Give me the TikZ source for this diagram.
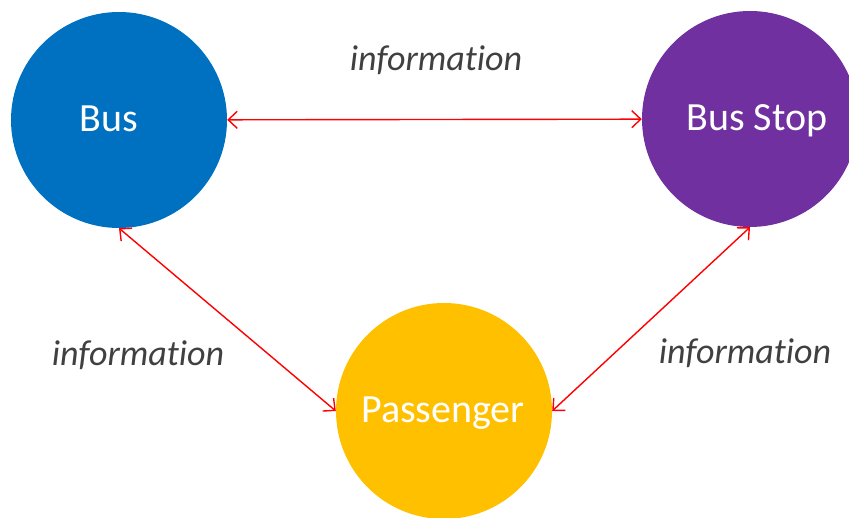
\documentclass[tikz,border=0pt]{standalone}
\usepackage{fontspec}
\setmainfont{Carlito}[Ligatures=CommonOff]
\usetikzlibrary{arrows.meta}
\tikzset{infobarb/.tip={Straight Barb[length=9pt,width=17pt,line width=1.4pt]}}
\begin{document}
\begin{tikzpicture}[x=1pt,y=-1pt,
  actor/.style={circle,draw=none,inner sep=0pt,minimum size=216pt},
  actorlabel/.style={text=white,font=\fontsize{40}{48}\selectfont,inner sep=0pt},
  info/.style={text=black!75,font=\itshape\fontsize{36}{43}\selectfont,inner sep=0pt},
  link/.style={draw=red,line width=1.4pt,infobarb-infobarb}]
  \useasboundingbox (0,0) rectangle (849,518);
  \clip (0,0) rectangle (849,518);

  % the three actors
  \node[actor,fill={rgb,255:red,0;green,112;blue,192}] (bus) at (119,120) {};
  \node[actor,fill={rgb,255:red,112;green,48;blue,160}] (stop) at (750,119) {};
  \node[actor,fill={rgb,255:red,255;green,192;blue,0}] (pass) at (444,411) {};

  \node[actorlabel] (buslbl) at (109,119) {Bus};
  \node[actorlabel] (stoplbl) at (757,121) {Bus Stop};
  \node[actorlabel] (passlbl) at (443,413) {Passenger};

  % information flows
  \draw[link] (bus) -- (stop);
  \draw[link] (bus.south) -- (pass.west);
  \draw[link] (pass.east) -- (stop.south);

  \node[info] (infotop) at (436,60) {information};
  \node[info] (infoleft) at (138,355) {information};
  \node[info] (inforight) at (745,353) {information};
\end{tikzpicture}
\end{document}
